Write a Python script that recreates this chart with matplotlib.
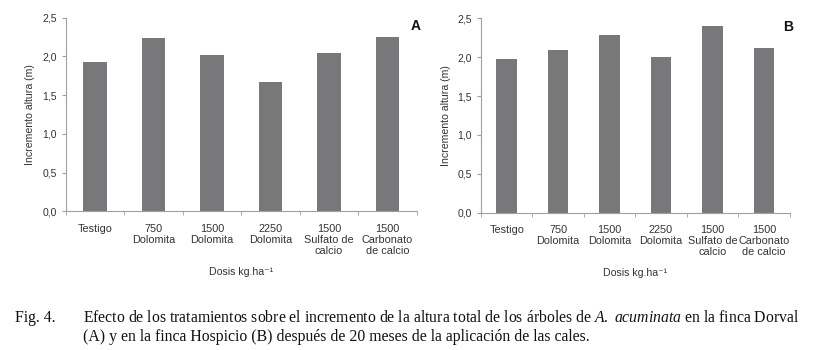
import matplotlib
matplotlib.use("Agg")
import matplotlib.pyplot as plt
from matplotlib.ticker import FuncFormatter

plt.rcParams['font.family'] = ['Liberation Sans', 'DejaVu Sans']
plt.rcParams['mathtext.fontset'] = 'custom'
plt.rcParams['mathtext.rm'] = 'Liberation Serif'
plt.rcParams['mathtext.it'] = 'Liberation Serif:italic'

categories = ["Testigo", "750\nDolomita", "1500\nDolomita", "2250\nDolomita",
              "1500\nSulfato de\ncalcio", "1500\nCarbonato\nde calcio"]
dorval_a = [1.93, 2.23, 2.02, 1.67, 2.04, 2.25]
hospicio_b = [1.98, 2.09, 2.29, 2.00, 2.40, 2.12]
y_ticks = [0.0, 0.5, 1.0, 1.5, 2.0, 2.5]

bar_color = "#78787b"
axis_color = "#a0a0a0"
text_color = "#333333"


def draw_panel(ax, values, letter):
    x = range(len(categories))
    ax.bar(x, values, width=0.4, color=bar_color)
    ax.set_xlim(-0.5, len(categories) - 0.5)
    ax.set_ylim(0, 2.5)
    ax.set_yticks(y_ticks)
    ax.yaxis.set_major_formatter(FuncFormatter(lambda v, p: f"{v:.1f}".replace(".", ",")))
    ax.set_xticks(list(x))
    ax.set_xticklabels(categories, fontsize=7.8, color=text_color, linespacing=1.1)
    ax.set_xticks([i + 0.5 for i in range(-1, len(categories))], minor=True)
    ax.tick_params(axis='x', which='major', length=0, pad=9)
    ax.tick_params(axis='x', which='minor', length=3, color=axis_color)
    ax.tick_params(axis='y', length=3, color=axis_color, labelsize=7.5, labelcolor=text_color)
    for side in ("top", "right"):
        ax.spines[side].set_visible(False)
    for side in ("left", "bottom"):
        ax.spines[side].set_color(axis_color)
        ax.spines[side].set_linewidth(0.8)
    ax.set_ylabel("Incremento altura (m)", fontsize=7.6, color=text_color, labelpad=5)
    ax.set_xlabel("Dosis kg.ha\u207b\u00b9", fontsize=7.6, color=text_color, labelpad=8)
    ax.text(1.01, 0.955, letter, transform=ax.transAxes, fontsize=10, fontweight='bold',
            ha='right', va='center', color="#111111")


fig = plt.figure(figsize=(8.14, 3.5), dpi=100)
ax_a = fig.add_axes([0.081, 0.396, 0.431, 0.554])
ax_b = fig.add_axes([0.591, 0.392, 0.379, 0.556])
draw_panel(ax_a, dorval_a, "A")
draw_panel(ax_b, hospicio_b, "B")

cap = dict(fontsize=11.3, family='Liberation Serif', color="#111111", va='baseline')
fig.text(0.018, 0.079, "Fig. 4.", **cap)
fig.text(0.102, 0.079, "Efecto de los tratamientos sobre el incremento de la altura total de los "
         "árboles de $\\mathit{A.}$ $\\mathit{acuminata}$ en la finca Dorval", **cap)
fig.text(0.102, 0.026, "(A) y en la finca Hospicio (B) después de 20 meses de la aplicación de las cales.",
         **cap)

fig.savefig("out.png", dpi=100)
